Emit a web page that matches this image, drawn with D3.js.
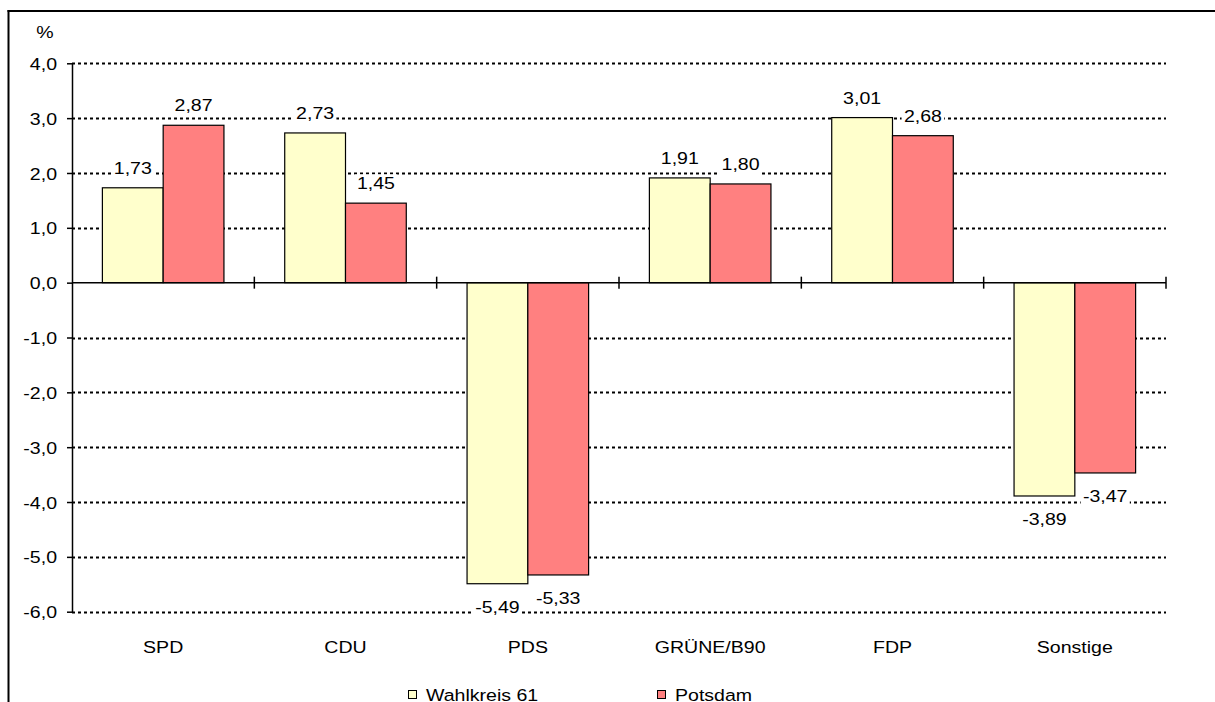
<!DOCTYPE html>
<html>
<head>
<meta charset="utf-8">
<script src="https://cdn.jsdelivr.net/npm/d3@7"></script>
<style>
  html, body { margin: 0; padding: 0; background: #fff; }
  svg { display: block; }
  text { font-family: Arial, "Liberation Sans", sans-serif; font-size: 17px; fill: #000; }
</style>
</head>
<body>
<svg id="chart" width="1215" height="702"></svg>
<script>
const categories = ["SPD", "CDU", "PDS", "GRÜNE/B90", "FDP", "Sonstige"];
const seriesNames = ["Wahlkreis 61", "Potsdam"];
const wahlkreis61 = [1.73, 2.73, -5.49, 1.91, 3.01, -3.89];
const potsdam = [2.87, 1.45, -5.33, 1.80, 2.68, -3.47];
const seriesColors = ["#FFFFCC", "#FF8080"];
const yTicks = [-6, -5, -4, -3, -2, -1, 0, 1, 2, 3, 4];
const yUnit = "%";

const seriesValues = [wahlkreis61, potsdam];
const SX = 1.15; // horizontal text stretch seen in the reference

const locale = d3.formatLocale({decimal: ",", thousands: ".", grouping: [3], currency: ["", " €"], minus: "-"});
const fmtTick = locale.format(".1f");
const fmtVal = locale.format(".2f");

function stretch(sel) {
  sel.each(function() {
    const t = d3.select(this);
    const tx = +t.attr("x") || 0, ty = +t.attr("y") || 0;
    t.attr("x", 0).attr("y", 0).attr("transform", `translate(${tx},${ty}) scale(${SX},1)`);
  });
}

const svg = d3.select("#chart");
const plot = {left: 72, right: 1166, top: 63.3, bottom: 611.7};

const x = d3.scaleBand().domain(categories).range([plot.left, plot.right]).paddingInner(0).paddingOuter(0);
const x1 = d3.scaleBand().domain(seriesNames).range([0, x.bandwidth()]).paddingInner(0).paddingOuter(0.5);
const y = d3.scaleLinear().domain([-6, 4]).range([plot.bottom, plot.top]);

// frame (left + top visible)
svg.append("line").attr("x1", 8.5).attr("x2", 8.5).attr("y1", 10).attr("y2", 702)
  .attr("stroke", "#000").attr("stroke-width", 2);
svg.append("line").attr("x1", 7.5).attr("x2", 1215).attr("y1", 11).attr("y2", 11)
  .attr("stroke", "#000").attr("stroke-width", 2);

// gridlines
svg.append("g").selectAll("line")
  .data(yTicks.filter(d => d !== 0))
  .join("line")
  .attr("x1", plot.left).attr("x2", plot.right)
  .attr("y1", d => Math.round(y(d)) + 0.5).attr("y2", d => Math.round(y(d)) + 0.5)
  .attr("stroke", "#000").attr("stroke-width", 2)
  .attr("stroke-dasharray", "3,3");

// y axis
const yAxis = svg.append("g")
  .attr("transform", `translate(${plot.left},0)`)
  .call(d3.axisLeft(y).tickValues(yTicks).tickSize(5).tickSizeOuter(0).tickPadding(10).tickFormat(fmtTick));
yAxis.attr("font-size", null).attr("font-family", null);
yAxis.selectAll("text").attr("fill", "#000").attr("dy", "0.36em");
yAxis.selectAll("text").each(function() {
  const t = d3.select(this);
  const tx = +t.attr("x");
  t.attr("x", 0).attr("transform", `translate(${tx},0) scale(${SX},1)`);
});
yAxis.select(".domain").attr("stroke", "#000").attr("stroke-width", 1.5);
yAxis.selectAll(".tick line").attr("stroke", "#000").attr("stroke-width", 1.5);

// unit label
svg.append("text").attr("x", 45).attr("y", 38).attr("text-anchor", "middle").text(yUnit).call(stretch);

// bars
const groups = svg.append("g").selectAll("g")
  .data(categories)
  .join("g")
  .attr("transform", d => `translate(${x(d)},0)`);

const barData = (c, i) => seriesNames.map((s, k) => ({cat: c, series: s, k: k, value: seriesValues[k][i]}));

groups.selectAll("rect")
  .data((c, i) => barData(c, i))
  .join("rect")
  .attr("x", d => x1(d.series))
  .attr("width", x1.bandwidth())
  .attr("y", d => y(Math.max(0, d.value)))
  .attr("height", d => Math.abs(y(d.value) - y(0)))
  .attr("fill", d => seriesColors[d.k])
  .attr("stroke", "#000").attr("stroke-width", 1.2);

// zero line
const y0 = y(0);
svg.append("line").attr("x1", plot.left).attr("x2", plot.right)
  .attr("y1", y0).attr("y2", y0).attr("stroke", "#000").attr("stroke-width", 1.5);

// category separator ticks on zero line
svg.append("g").selectAll("line")
  .data(categories)
  .join("line")
  .attr("x1", d => x(d) + x.bandwidth()).attr("x2", d => x(d) + x.bandwidth())
  .attr("y1", y0 - 6).attr("y2", y0 + 6)
  .attr("stroke", "#000").attr("stroke-width", 1.5);

// category labels
svg.append("g").selectAll("text")
  .data(categories)
  .join("text")
  .attr("x", d => x(d) + x.bandwidth() / 2)
  .attr("y", 653)
  .attr("text-anchor", "middle")
  .text(d => d)
  .call(stretch);

// value labels with white background
const labelG = svg.append("g");
categories.forEach((c, i) => {
  barData(c, i).forEach(d => {
    const cx = x(c) + x1(d.series) + x1.bandwidth() / 2;
    const by = d.value >= 0 ? y(d.value) - 14 : y(d.value) + 29;
    const g = labelG.append("g").attr("transform", `translate(${cx},${by}) scale(${SX},1)`);
    const t = g.append("text").attr("x", 0).attr("y", 0).attr("text-anchor", "middle").text(fmtVal(d.value));
    const bb = t.node().getBBox();
    g.insert("rect", "text")
      .attr("x", bb.x - 2).attr("y", bb.y + 1)
      .attr("width", bb.width + 4).attr("height", bb.height + 1)
      .attr("fill", "#fff");
  });
});

// legend
const legendX = [408, 657];
const legend = svg.append("g").selectAll("g")
  .data(seriesNames)
  .join("g")
  .attr("transform", (d, i) => `translate(${legendX[i]},690)`);
legend.append("rect").attr("x", 0.5).attr("y", 0.5).attr("width", 8).attr("height", 8)
  .attr("fill", (d, i) => seriesColors[i]).attr("stroke", "#000").attr("stroke-width", 1);
legend.append("text").attr("x", 18).attr("y", 10.5).text(d => d).call(stretch);
</script>
</body>
</html>
